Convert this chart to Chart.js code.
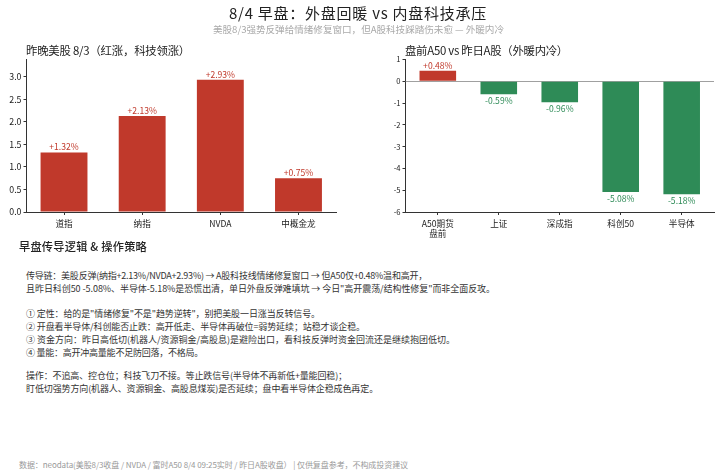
<!DOCTYPE html>
<html>
<head>
<meta charset="utf-8">
<script src="https://cdn.jsdelivr.net/npm/chart.js@4"></script>
<style>
  html, body { margin: 0; padding: 0; background: #fff; }
  body { width: 720px; height: 475px; position: relative; overflow: hidden; font-family: "Noto Sans CJK SC", sans-serif; color: #222; }
  canvas { position: absolute; top: 0; }
  .t { position: absolute; white-space: nowrap; line-height: 1; }
  #main-title { left: 229px; top: 5px; font-size: 15px; }
  #sub-title { left: 213px; top: 25px; font-size: 9.6px; color: #aaa; }
  .panel-title { top: 45px; font-size: 11.4px; }
  #notes-title { left: 19px; top: 241px; font-size: 11.2px; font-weight: 500; }
  .note { left: 26px; font-size: 9px; color: #333; }
  #footer { left: 19px; top: 461px; font-size: 8px; color: #999; }
</style>
</head>
<body>
<canvas id="usChart" width="360" height="240" style="left:0"></canvas>
<canvas id="cnChart" width="360" height="240" style="left:360px"></canvas>

<div class="t" id="main-title" data-w="258">8/4 早盘：外盘回暖 vs 内盘科技承压</div>
<div class="t" id="sub-title" data-w="291">美股8/3强势反弹给情绪修复窗口，但A股科技踩踏伤未愈 — 外暖内冷</div>
<div class="t panel-title" style="left:26px" data-w="164">昨晚美股 8/3（红涨，科技领涨）</div>
<div class="t panel-title" style="left:405px" data-w="163">盘前A50 vs 昨日A股（外暖内冷）</div>
<div class="t" id="notes-title" data-w="128">早盘传导逻辑 &amp; 操作策略</div>
<div id="notes"></div>
<div class="t" id="footer" data-w="389">数据：neodata(美股8/3收盘 / NVDA / 富时A50 8/4 09:25实时 / 昨日A股收盘） | 仅供复盘参考，不构成投资建议</div>

<script>
const usLabels = ["道指", "纳指", "NVDA", "中概金龙"];
const usValues = [1.32, 2.13, 2.93, 0.75];
const usTicks = [0, 0.5, 1, 1.5, 2, 2.5, 3];

const cnLabels = [["A50期货", "盘前"], "上证", "深成指", "科创50", "半导体"];
const cnValues = [0.48, -0.59, -0.96, -5.08, -5.18];
const cnTicks = [-6, -5, -4, -3, -2, -1, 0, 1];

// top, width in the reference, text
const noteLines = [
  [271, 401, "传导链：美股反弹(纳指+2.13%/NVDA+2.93%) → A股科技线情绪修复窗口 → 但A50仅+0.48%温和高开，"],
  [284, 469, "且昨日科创50 -5.08%、半导体-5.18%是恐慌出清，单日外盘反弹难填坑 → 今日\"高开震荡/结构性修复\"而非全面反攻。"],
  [309, 294, "① 定性：给的是\"情绪修复\"不是\"趋势逆转\"，别把美股一日涨当反转信号。"],
  [322, 339, "② 开盘看半导体/科创能否止跌：高开低走、半导体再破位=弱势延续；站稳才谈企稳。"],
  [335, 429, "③ 资金方向：昨日高低切(机器人/资源铜金/高股息)是避险出口，看科技反弹时资金回流还是继续抱团低切。"],
  [348, 177, "④ 量能：高开冲高量能不足防回落，不格局。"],
  [371, 321, "操作：不追高、控仓位；科技飞刀不接。等止跌信号(半导体不再新低+量能回稳)；"],
  [384, 352, "盯低切强势方向(机器人、资源铜金、高股息煤炭)是否延续；盘中看半导体企稳成色再定。"]
];

const RED = "#c0392b";
const GREEN = "#2e8b57";
const FONT = '"Noto Sans CJK SC", sans-serif';

noteLines.forEach(([top, width, text]) => {
  const div = document.createElement("div");
  div.className = "t note";
  div.style.top = top + "px";
  div.dataset.w = width;
  div.textContent = text;
  document.getElementById("notes").appendChild(div);
});

// the reference font has wider latin, so spread each line to its reference width
document.querySelectorAll("[data-w]").forEach(el => {
  const extra = Number(el.dataset.w) - el.getBoundingClientRect().width;
  el.style.letterSpacing = (extra / el.textContent.length).toFixed(3) + "px";
});

// value labels above / below each bar, plus the zero line on the right panel
const barLabels = {
  id: "barLabels",
  beforeDatasetsDraw(chart, args, opts) {
    if (!opts.zeroLine) return;
    const { ctx, chartArea, scales } = chart;
    const y = Math.round(scales.y.getPixelForValue(0)) + 0.5;
    ctx.save();
    ctx.strokeStyle = "#888";
    ctx.lineWidth = 0.8;
    ctx.beginPath();
    ctx.moveTo(chartArea.left, y);
    ctx.lineTo(chartArea.right, y);
    ctx.stroke();
    ctx.restore();
  },
  afterDatasetsDraw(chart) {
    const { ctx } = chart;
    const values = chart.data.datasets[0].data;
    ctx.save();
    ctx.font = "8.6px " + FONT;
    ctx.textAlign = "center";
    chart.getDatasetMeta(0).data.forEach((bar, i) => {
      const v = values[i].y;
      ctx.fillStyle = v >= 0 ? RED : GREEN;
      ctx.textBaseline = v >= 0 ? "bottom" : "top";
      const txt = (v >= 0 ? "+" : "") + v.toFixed(2) + "%";
      ctx.fillText(txt, bar.x, bar.y + (v >= 0 ? -1 : 2));
    });
    ctx.restore();
  }
};

function makeChart(id, labels, values, ticks, cfg) {
  return new Chart(document.getElementById(id), {
    type: "bar",
    plugins: [barLabels],
    data: {
      datasets: [{
        data: values.map((v, i) => ({ x: i, y: v })),
        backgroundColor: values.map(v => v >= 0 ? RED : GREEN),
        barPercentage: 0.6,
        categoryPercentage: 1
      }]
    },
    options: {
      responsive: false,
      animation: false,
      layout: { padding: { top: cfg.top, right: cfg.right, left: 0, bottom: 0 } },
      plugins: {
        legend: { display: false },
        tooltip: { enabled: false },
        barLabels: { zeroLine: cfg.zeroLine }
      },
      scales: {
        x: {
          type: "linear",
          offset: false,
          min: cfg.xMin,
          max: cfg.xMax,
          afterBuildTicks: s => { s.ticks = labels.map((l, i) => ({ value: i })); },
          afterFit: s => { s.height = cfg.xHeight; },
          border: { color: "#333", width: 1 },
          grid: { offset: false, drawOnChartArea: false, tickLength: 3, tickColor: "#333" },
          ticks: {
            autoSkip: false,
            maxRotation: 0,
            padding: 4,
            color: "#222",
            font: { family: FONT, size: 8.6, lineHeight: 1.15 },
            callback: v => labels[v]
          }
        },
        y: {
          min: cfg.yMin,
          max: cfg.yMax,
          afterBuildTicks: s => { s.ticks = ticks.map(v => ({ value: v })); },
          afterFit: s => { s.width = cfg.yWidth; },
          border: { color: "#333", width: 1 },
          grid: { drawOnChartArea: false, tickLength: 3, tickColor: "#333" },
          ticks: {
            padding: 2,
            color: "#222",
            font: { family: FONT, size: cfg.yFont },
            callback: v => cfg.decimals ? v.toFixed(cfg.decimals) : String(v)
          }
        }
      }
    }
  });
}

makeChart("usChart", usLabels, usValues, usTicks, {
  top: 59.5, right: 24, xHeight: 28, yWidth: 26.5, yFont: 8.8,
  xMin: -0.48, xMax: 3.48, yMin: 0, yMax: 3.38, decimals: 1, zeroLine: false
});

makeChart("cnChart", cnLabels, cnValues, cnTicks, {
  top: 59.5, right: 6, xHeight: 28, yWidth: 45.5, yFont: 7.6,
  xMin: -0.53, xMax: 4.53, yMin: -6, yMax: 1, decimals: 0, zeroLine: true
});
</script>
</body>
</html>
